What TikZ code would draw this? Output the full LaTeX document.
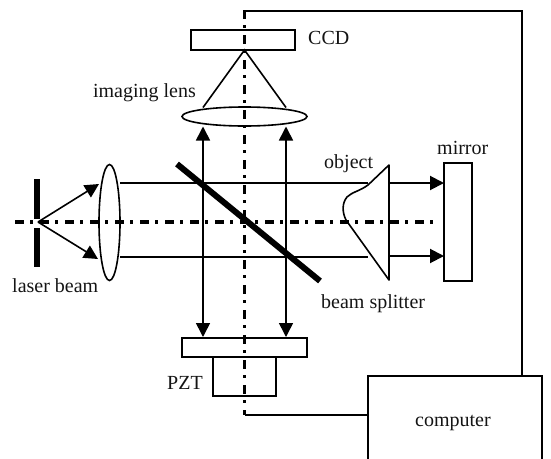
\documentclass[tikz,border=0pt]{standalone}
\usepackage{fontspec}
\setmainfont{Liberation Serif}
\usetikzlibrary{arrows.meta,shapes.geometric}
\tikzset{
  box/.style={draw,rectangle,line width=1.9pt,inner sep=0pt,outer sep=0pt,anchor=north west},
  lens/.style={draw,ellipse,line width=1.6pt,inner sep=0pt,outer sep=0pt},
  lbl/.style={inner sep=0pt,font=\fontsize{20}{24}\selectfont,text=black!92},
  ray/.style={line width=1.6pt},
  tip/.style={-{Triangle[length=14pt,width=14pt]}},
  arrow/.style={line width=1.6pt,tip},
  twoway/.style={line width=1.6pt,{Triangle[length=14pt,width=14pt]}-{Triangle[length=14pt,width=14pt]}},
  wire/.style={line width=2pt},
  axis/.style={line width=3.5pt,dash pattern=on 9pt off 6pt on 3pt off 7pt},
  solid bar/.style={line width=6pt},
}
\begin{document}
\begin{tikzpicture}[x=1pt,y=-1pt]
\useasboundingbox (0,0) rectangle (551,458);
% named points
\coordinate (src) at (38,222);
\coordinate (axL) at (15,222);
\coordinate (axR) at (436,222);
\coordinate (axT) at (244.5,10);
\coordinate (axB) at (244.5,415);
\coordinate (stopTop) at (37,179);
\coordinate (stopA) at (37,219);
\coordinate (stopB) at (37,228);
\coordinate (stopBot) at (37,267);
\coordinate (wireC) at (522,11);
\coordinate (tipU) at (99,184);
\coordinate (tipD) at (98,259);
% axes
\draw[axis] (axL) -- (axR);
\draw[axis] (axT) -- (axB);
% stop
\draw[line width=6pt] (stopTop) -- (stopA);
\draw[line width=6pt] (stopB) -- (stopBot);
% boxes and lenses
\node[lens,minimum width=21pt,minimum height=116pt] (lensA) at (109.5,222.5) {};
\node[lens,minimum width=125pt,minimum height=19pt] (lensB) at (244.5,116.5) {};
\node[box,minimum width=104pt,minimum height=20pt] (ccd) at (191,30) {};
\node[box,minimum width=125pt,minimum height=19pt] (plate) at (182,338) {};
\node[box,minimum width=63pt,minimum height=39pt] (pzt) at (213,357) {};
\node[box,minimum width=28pt,minimum height=118pt] (mirror) at (444,163) {};
% computer, open at the picture's bottom edge
\node[box,minimum width=174pt,minimum height=110pt] (comp) at (368,376) {};
% rays from source
\draw[arrow] (src) -- (tipU);
\draw[arrow] (src) -- (tipD);
% beams
\coordinate (bU1) at (120,183); \coordinate (bU2) at (368,183);
\coordinate (bL1) at (120,257); \coordinate (bL2) at (368,257);
\draw[ray] (bU1) -- (bU2);
\draw[ray] (bL1) -- (bL2);
% vertical arrows
\coordinate (vA1) at (203,126.5); \coordinate (vA2) at (203,337);
\coordinate (vB1) at (286,126.5); \coordinate (vB2) at (286,337);
\draw[twoway] (vA1) -- (vA2);
\draw[twoway] (vB1) -- (vB2);
% cone
\coordinate (apex) at (244.5,50);
\coordinate (coneL) at (203,107.5);
\coordinate (coneR) at (286,107.5);
\draw[ray] (coneL) -- (apex) -- (coneR);
% splitter
\coordinate (bs1) at (177,164); \coordinate (bs2) at (320,281);
\draw[solid bar] (bs1) -- (bs2);
% object
\coordinate (objT) at (389,165); \coordinate (objB) at (389,280);
\draw[line width=1.6pt,line join=round] (objT) -- (368,185)
  .. controls (360,191) and (352,192) .. (347,197)
  .. controls (342,203) and (342,212) .. (346,220)
  -- (objB) -- cycle;
% arrows to mirror
\coordinate (mA) at (389,183); \coordinate (mB) at (389,256);
\draw[wire,tip] (mA) -- (mirror.west |- mA);
\draw[wire,tip] (mB) -- (mirror.west |- mB);
% wires
\coordinate (wireT) at (244.5,11);
\draw[wire] (wireT) -- (wireC) -- (wireC |- comp.north);
\draw[wire] (axB) -- (comp.west |- axB);
% labels
\node[lbl,anchor=base west] (tCCD) at (308,44) {CCD};
\node[lbl,anchor=base east] (tImg) at (196,97) {imaging lens};
\node[lbl,anchor=base west] (tObj) at (324,168) {object};
\node[lbl,anchor=base west] (tMir) at (437,154) {mirror};
\node[lbl,anchor=base west] (tLas) at (12,292) {laser beam};
\node[lbl,anchor=base west] (tBs) at (321,308) {beam splitter};
\node[lbl,anchor=base east] (tPzt) at (203,389) {PZT};
\node[lbl,anchor=base] (tComp) at (453,426) {computer};
\end{tikzpicture}
\end{document}
